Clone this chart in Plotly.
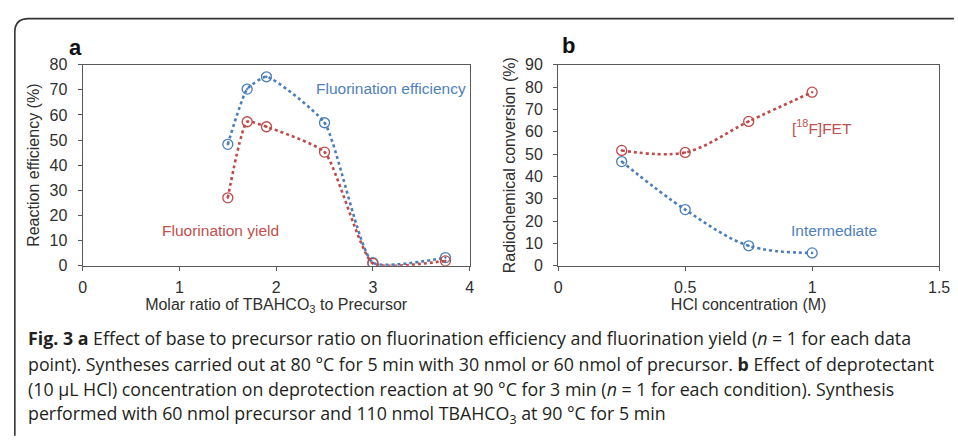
import plotly.graph_objects as go

W, H = 958, 440

# Panel a data
ratio_x = [1.5, 1.7, 1.9, 2.5, 3.0, 3.75]
efficiency = [48.3, 70.3, 75.2, 56.9, 1.2, 3.2]
yield_ = [27.0, 57.3, 55.3, 45.2, 0.9, 1.9]

# Panel b data
hcl_x = [0.25, 0.5, 0.75, 1.0]
fet = [51.6, 50.7, 64.6, 77.7]
intermediate = [46.6, 25.1, 8.9, 5.7]

a_xticks = [0, 1, 2, 3, 4]
a_yticks = [0, 10, 20, 30, 40, 50, 60, 70, 80]
b_xticks = [0, 0.5, 1, 1.5]
b_xticklabels = ["0", "0.5", "1", "1.5"]
b_yticks = [0, 10, 20, 30, 40, 50, 60, 70, 80, 90]

BLUE = "#4A7EBB"
RED = "#BE4B48"
BLUE_T = "#4F81BD"
RED_T = "#C0504D"


def px(x):
    return x / W


def py(y):
    return 1 - y / H


fig = go.Figure()


def add_series(x, y, color, xa, ya, smooth):
    fig.add_trace(go.Scatter(
        x=x, y=y, mode="lines+markers", xaxis=xa, yaxis=ya,
        line=dict(color=color, width=2.6, dash="dot", shape="spline", smoothing=smooth),
        marker=dict(symbol="circle-open-dot", size=10, color=color, line=dict(width=1.3, color=color)),
        showlegend=False, hoverinfo="skip"))


add_series(ratio_x, efficiency, BLUE, "x", "y", 0.5)
add_series(ratio_x, yield_, RED, "x", "y", 0.5)
add_series(hcl_x, fet, RED, "x2", "y2", 1.0)
add_series(hcl_x, intermediate, BLUE, "x2", "y2", 1.0)

axis_common = dict(
    showline=True, linecolor="#595959", linewidth=1.4, mirror=True,
    ticks="outside", ticklen=4, tickcolor="#595959", tickwidth=1.2,
    showgrid=False, zeroline=False,
    tickfont=dict(family="Arial", size=16, color="#2F2F2F"),
)
title_font = dict(family="Arial", size=16, color="#2F2F2F")

ydom = [py(268), py(59)]
fig.update_layout(
    width=W, height=H, margin=dict(l=0, r=0, t=0, b=0),
    paper_bgcolor="white", plot_bgcolor="white",
    xaxis=dict(domain=[px(80), px(473)], range=[0, 4], tickvals=a_xticks, ticklabelstandoff=3,
               title=dict(text="Molar ratio of TBAHCO<sub>3</sub> to Precursor", font=title_font, standoff=3),
               anchor="y", **axis_common),
    yaxis=dict(domain=ydom, range=[0, 80], tickvals=a_yticks, ticklabelstandoff=7,
               title=dict(text="Reaction efficiency (%)", font=title_font, standoff=5),
               anchor="x", **axis_common),
    xaxis2=dict(domain=[px(563), px(950)], range=[0, 1.5], tickvals=b_xticks, ticklabelstandoff=3,
                ticktext=b_xticklabels,
                title=dict(text="HCl concentration (M)", font=title_font, standoff=3),
                anchor="y2", **axis_common),
    yaxis2=dict(domain=ydom, range=[0, 90], tickvals=b_yticks, ticklabelstandoff=7,
                title=dict(text="Radiochemical conversion (%)", font=title_font, standoff=5),
                anchor="x2", **axis_common),
)

label_font = dict(family="Arial", size=15.5)
annots = [
    dict(text="Fluorination efficiency", x=px(315), y=py(84), xanchor="left", yanchor="middle",
         font=dict(color=BLUE_T, **label_font)),
    dict(text="Fluorination yield", x=px(158), y=py(231), xanchor="left", yanchor="middle",
         font=dict(color=RED_T, **label_font)),
    dict(text="[<sup>18</sup>F]FET", x=px(798), y=py(124), xanchor="left", yanchor="middle",
         font=dict(color=RED_T, **label_font)),
    dict(text="Intermediate", x=px(797), y=py(231), xanchor="left", yanchor="middle",
         font=dict(color=BLUE_T, **label_font)),
    dict(text="<b>a</b>", x=px(64), y=py(41), xanchor="left", yanchor="middle",
         font=dict(family="Arial", size=22, color="#111111")),
    dict(text="<b>b</b>", x=px(565), y=py(39), xanchor="left", yanchor="middle",
         font=dict(family="Arial", size=22, color="#111111")),
]

caption_lines = [
    "<b>Fig. 3 a</b> Effect of base to precursor ratio on fluorination efficiency and fluorination yield (<i>n</i> = 1 for each data",
    "point). Syntheses carried out at 80 °C for 5 min with 30 nmol or 60 nmol of precursor. <b>b</b> Effect of deprotectant",
    "(10 µL HCl) concentration on deprotection reaction at 90 °C for 3 min (<i>n</i> = 1 for each condition). Synthesis",
    "performed with 60 nmol precursor and 110 nmol TBAHCO<sub>3</sub> at 90 °C for 5 min",
]
caption_y = [343, 370, 396, 423]
for t, yy in zip(caption_lines, caption_y):
    annots.append(dict(text=t, x=px(22), y=py(yy), xanchor="left", yanchor="middle",
                       font=dict(family="Open Sans", size=17.8, color="#231F20")))

for a in annots:
    a.update(xref="paper", yref="paper", showarrow=False)
fig.update_layout(annotations=annots)

# rounded frame (top-left corner visible, continues past right & bottom edges)
path = (f"M {px(11)},{py(445)} L {px(11)},{py(25)} "
        f"Q {px(11)},{py(11)} {px(25)},{py(11)} L {px(965)},{py(11)}")
fig.add_shape(type="path", path=path, xref="paper", yref="paper",
              line=dict(color="#333333", width=1.6))

fig.write_html("out.html", config={"displayModeBar": False},
               post_script="document.body.style.margin='0';")
